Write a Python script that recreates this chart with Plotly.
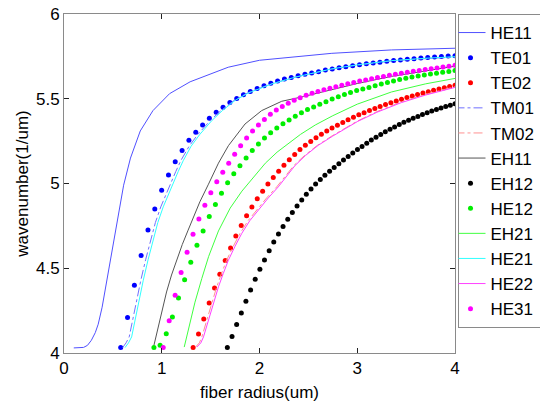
import plotly.graph_objects as go

# ---------------- data ----------------
he11_x = [0.10, 0.15, 0.20, 0.24, 0.28, 0.32, 0.35, 0.39, 0.42, 0.47, 0.54, 0.61, 0.68, 0.78, 0.91, 1.08, 1.29, 1.50, 1.68, 2.00, 2.36, 2.74, 3.35, 4.00]
he11_y = [4.03, 4.03, 4.033, 4.045, 4.075, 4.12, 4.17, 4.27, 4.37, 4.53, 4.76, 4.99, 5.15, 5.31, 5.43, 5.53, 5.60, 5.645, 5.686, 5.727, 5.748, 5.768, 5.788, 5.798]

te01_x = [0.580, 0.650, 0.720, 0.789, 0.859, 0.929, 0.999, 1.069, 1.138, 1.208, 1.278, 1.348, 1.418, 1.487, 1.557, 1.627, 1.697, 1.767, 1.836, 1.906,
          1.976, 2.046, 2.116, 2.185, 2.255, 2.325, 2.395, 2.465, 2.534, 2.604, 2.674, 2.744, 2.814, 2.883, 2.953, 3.023, 3.093, 3.163, 3.232, 3.302,
          3.372, 3.442, 3.512, 3.581, 3.651, 3.721, 3.791, 3.861, 3.930, 4.000]
te01_y = [4.032, 4.21, 4.40, 4.575, 4.725, 4.85, 4.96, 5.05, 5.128, 5.195, 5.255, 5.303, 5.345, 5.385, 5.42, 5.45, 5.478, 5.502, 5.523, 5.543,
          5.561, 5.577, 5.592, 5.605, 5.616, 5.626, 5.636, 5.645, 5.652, 5.66, 5.669, 5.676, 5.683, 5.689, 5.695, 5.701, 5.706, 5.711, 5.716, 5.721,
          5.725, 5.729, 5.733, 5.736, 5.740, 5.743, 5.746, 5.749, 5.752, 5.754]

te02_x = [1.321, 1.376, 1.430, 1.485, 1.540, 1.594, 1.649, 1.704, 1.758, 1.813, 1.868, 1.922, 1.977, 2.032, 2.086, 2.141, 2.196, 2.250, 2.305, 2.360,
          2.414, 2.469, 2.524, 2.578, 2.633, 2.688, 2.742, 2.797, 2.852, 2.906, 2.961, 3.016, 3.070, 3.125, 3.180, 3.234, 3.289, 3.344, 3.399, 3.453,
          3.508, 3.563, 3.617, 3.672, 3.727, 3.781, 3.836, 3.891, 3.945, 4.000]
te02_y = [4.032, 4.112, 4.20, 4.295, 4.383, 4.465, 4.545, 4.62, 4.69, 4.752, 4.81, 4.862, 4.91, 4.955, 4.997, 5.036, 5.072, 5.107, 5.14, 5.171,
          5.20, 5.225, 5.248, 5.27, 5.29, 5.309, 5.327, 5.344, 5.36, 5.376, 5.391, 5.405, 5.418, 5.431, 5.443, 5.455, 5.466, 5.477, 5.487, 5.497,
          5.507, 5.516, 5.525, 5.534, 5.542, 5.55, 5.558, 5.565, 5.572, 5.579]

he21_x = [0.624, 0.66, 0.692, 0.726, 0.77, 0.811, 0.86, 0.913, 0.96, 1.015, 1.066, 1.117, 1.168, 1.219, 1.30, 1.39, 1.512, 1.62, 1.75, 1.886, 2.124, 2.362, 2.737, 3.0, 3.349, 3.7, 4.0]
he21_y = [4.032, 4.06, 4.095, 4.193, 4.31, 4.429, 4.55, 4.666, 4.77, 4.862, 4.935, 5.0, 5.07, 5.134, 5.22, 5.29, 5.371, 5.43, 5.49, 5.534, 5.587, 5.627, 5.676, 5.70, 5.725, 5.739, 5.748]

tm01_x = [0.60, 0.635, 0.667, 0.70, 0.745, 0.786, 0.835, 0.888, 0.935, 0.99, 1.041, 1.092, 1.143, 1.194, 1.28, 1.37, 1.495, 1.605, 1.74, 1.876, 2.115, 2.355, 2.73, 3.0, 3.349, 3.7, 4.0]
tm01_y = [4.032, 4.06, 4.095, 4.193, 4.31, 4.429, 4.55, 4.666, 4.77, 4.862, 4.935, 5.0, 5.07, 5.134, 5.22, 5.29, 5.371, 5.43, 5.49, 5.534, 5.587, 5.626, 5.674, 5.698, 5.723, 5.737, 5.746]

eh11_x = [0.92, 0.95, 0.981, 1.049, 1.10, 1.151, 1.21, 1.27, 1.33, 1.39, 1.478, 1.58, 1.682, 1.852, 2.022, 2.227, 2.45, 2.75, 3.0, 3.35, 3.7, 4.0]
eh11_y = [4.045, 4.12, 4.193, 4.36, 4.46, 4.548, 4.64, 4.725, 4.81, 4.892, 4.996, 5.12, 5.223, 5.351, 5.43, 5.485, 5.513, 5.556, 5.59, 5.632, 5.665, 5.692]

eh12_x = [1.671, 1.719, 1.766, 1.814, 1.861, 1.909, 1.956, 2.004, 2.051, 2.099, 2.146, 2.194, 2.241, 2.289, 2.336, 2.384, 2.432, 2.479, 2.527, 2.574,
          2.622, 2.669, 2.717, 2.764, 2.812, 2.859, 2.907, 2.954, 3.002, 3.049, 3.097, 3.144, 3.192, 3.240, 3.287, 3.335, 3.382, 3.430, 3.477, 3.525,
          3.572, 3.620, 3.667, 3.715, 3.762, 3.810, 3.857, 3.905, 3.952, 4.000]
eh12_y = [4.032, 4.098, 4.168, 4.236, 4.305, 4.372, 4.435, 4.494, 4.549, 4.603, 4.655, 4.702, 4.747, 4.789, 4.829, 4.867, 4.903, 4.937, 4.968, 4.997,
          5.024, 5.049, 5.072, 5.095, 5.117, 5.139, 5.16, 5.18, 5.20, 5.219, 5.238, 5.256, 5.273, 5.289, 5.305, 5.32, 5.334, 5.348, 5.361, 5.373,
          5.385, 5.396, 5.407, 5.417, 5.427, 5.436, 5.445, 5.454, 5.462, 5.47]

he12_x = [0.920, 0.983, 1.046, 1.109, 1.171, 1.234, 1.297, 1.360, 1.423, 1.486, 1.549, 1.611, 1.674, 1.737, 1.800, 1.863, 1.926, 1.989, 2.051, 2.114,
          2.177, 2.240, 2.303, 2.366, 2.429, 2.491, 2.554, 2.617, 2.680, 2.743, 2.806, 2.869, 2.931, 2.994, 3.057, 3.120, 3.183, 3.246, 3.309, 3.371,
          3.434, 3.497, 3.560, 3.623, 3.686, 3.749, 3.811, 3.874, 3.937, 4.000]
he12_y = [4.032, 4.045, 4.113, 4.213, 4.325, 4.432, 4.536, 4.636, 4.72, 4.805, 4.876, 4.943, 5.004, 5.058, 5.105, 5.151, 5.194, 5.233, 5.268, 5.30,
          5.328, 5.352, 5.375, 5.397, 5.417, 5.436, 5.452, 5.468, 5.483, 5.498, 5.512, 5.525, 5.537, 5.549, 5.558, 5.567, 5.577, 5.587, 5.596, 5.605,
          5.613, 5.621, 5.628, 5.634, 5.64, 5.646, 5.651, 5.656, 5.661, 5.666]

eh21_x = [1.23, 1.26, 1.29, 1.34, 1.41, 1.48, 1.58, 1.70, 1.82, 1.94, 2.06, 2.18, 2.30, 2.42, 2.57, 2.75, 3.0, 3.35, 3.7, 4.0]
eh21_y = [4.035, 4.11, 4.19, 4.30, 4.44, 4.57, 4.72, 4.855, 4.955, 5.04, 5.12, 5.185, 5.24, 5.29, 5.345, 5.40, 5.468, 5.54, 5.588, 5.62]

he22_x = [1.359, 1.40, 1.427, 1.46, 1.495, 1.54, 1.58, 1.63, 1.682, 1.75, 1.818, 1.90, 1.988, 2.09, 2.192, 2.28, 2.362, 2.47, 2.6, 2.75, 3.0, 3.2, 3.45, 3.7, 4.0]
he22_y = [4.035, 4.06, 4.095, 4.16, 4.233, 4.315, 4.39, 4.47, 4.548, 4.63, 4.705, 4.78, 4.843, 4.915, 4.98, 5.045, 5.105, 5.165, 5.225, 5.28, 5.365, 5.42, 5.477, 5.522, 5.567]

tm02_x = [1.345, 1.385, 1.41, 1.443, 1.477, 1.522, 1.562, 1.612, 1.664, 1.732, 1.80, 1.882, 1.97, 2.073, 2.176, 2.265, 2.35, 2.46, 2.592, 2.745, 3.0, 3.2, 3.45, 3.7, 4.0]
tm02_y = [4.035, 4.06, 4.095, 4.16, 4.233, 4.315, 4.39, 4.47, 4.548, 4.63, 4.705, 4.78, 4.843, 4.915, 4.98, 5.045, 5.105, 5.165, 5.225, 5.282, 5.368, 5.424, 5.481, 5.526, 5.571]

he31_x = [1.015, 1.076, 1.137, 1.198, 1.259, 1.320, 1.380, 1.441, 1.502, 1.563, 1.624, 1.685, 1.746, 1.807, 1.868, 1.929, 1.989, 2.050, 2.111, 2.172,
          2.233, 2.294, 2.355, 2.416, 2.477, 2.538, 2.598, 2.659, 2.720, 2.781, 2.842, 2.903, 2.964, 3.025, 3.086, 3.147, 3.207, 3.268, 3.329, 3.390,
          3.451, 3.512, 3.573, 3.634, 3.695, 3.756, 3.816, 3.877, 3.938, 4.000]
he31_y = [4.032, 4.19, 4.34, 4.475, 4.595, 4.70, 4.79, 4.872, 4.945, 5.01, 5.066, 5.12, 5.172, 5.222, 5.268, 5.31, 5.345, 5.378, 5.408, 5.433,
          5.455, 5.474, 5.491, 5.506, 5.52, 5.532, 5.543, 5.553, 5.562, 5.571, 5.58, 5.588, 5.596, 5.604, 5.611, 5.618, 5.625, 5.632, 5.638, 5.644,
          5.65, 5.656, 5.662, 5.667, 5.672, 5.677, 5.682, 5.687, 5.692, 5.697]

x_ticks = [0, 1, 2, 3, 4]
y_ticks = [4, 4.5, 5, 5.5, 6]
y_tick_text = ["4", "4.5", "5", "5.5", "6"]

# ---------------- figure ----------------
FONT = "Liberation Sans, Arial, sans-serif"
fig = go.Figure()

def line(x, y, name, color, dash="solid", width=1.0):
    fig.add_trace(go.Scatter(x=x, y=y, name=name, mode="lines",
                             line=dict(color=color, width=width, dash=dash)))

def dots(x, y, name, color):
    fig.add_trace(go.Scatter(x=x, y=y, name=name, mode="markers",
                             marker=dict(color=color, size=5, line=dict(width=0))))

line(he11_x, he11_y, "HE11", "#5050ff")
dots(te01_x, te01_y, "TE01", "#0000ff")
dots(te02_x, te02_y, "TE02", "#ff0000")
line(tm01_x, tm01_y, "TM01", "#7070ff", dash="dashdot")
line(tm02_x, tm02_y, "TM02", "#ff9090", dash="dashdot")
line(eh11_x, eh11_y, "EH11", "#555555")
dots(eh12_x, eh12_y, "EH12", "#000000")
dots(he12_x, he12_y, "HE12", "#00ee00")
line(eh21_x, eh21_y, "EH21", "#40ff40")
line(he21_x, he21_y, "HE21", "#30ffff")
line(he22_x, he22_y, "HE22", "#ff40ff")
dots(he31_x, he31_y, "HE31", "#ff00ff")

axis_common = dict(showgrid=False, zeroline=False, showline=True, linecolor="#8a8a8a",
                   linewidth=1, mirror="ticks", ticks="inside", ticklen=5, tickcolor="#222222",
                   ticklabeloverflow="allow",
                   tickfont=dict(family=FONT, size=17, color="#000000"))

fig.update_xaxes(range=[0, 4], tickvals=x_ticks, ticktext=[str(v) for v in x_ticks],
                 title=dict(text="fiber radius(um)", font=dict(family=FONT, size=17, color="#000000"), standoff=8),
                 **axis_common)
fig.update_yaxes(range=[4, 6], tickvals=y_ticks, ticktext=y_tick_text,
                 title=dict(text="wavenumber(1/um)", font=dict(family=FONT, size=17, color="#000000"), standoff=3),
                 **axis_common)

fig.update_layout(
    width=540, height=403,
    margin=dict(l=63.5, r=84.5, t=14, b=50.3, autoexpand=False),
    paper_bgcolor="white", plot_bgcolor="white",
    font=dict(family=FONT, size=17, color="#000000"),
    legend=dict(x=1.0064, xanchor="left", y=1.0, yanchor="top",
                bgcolor="white", bordercolor="#8a8a8a", borderwidth=1,
                font=dict(family=FONT, size=17, color="#000000"),
                itemwidth=30, tracegroupgap=0, maxheight=1, indentation=-8),
    showlegend=True,
)

# remove the default 8px page margin so the figure sits at the window's corner
fig.write_html("out.html", config={"displayModeBar": False},
               post_script="document.body.style.margin='0px';")
